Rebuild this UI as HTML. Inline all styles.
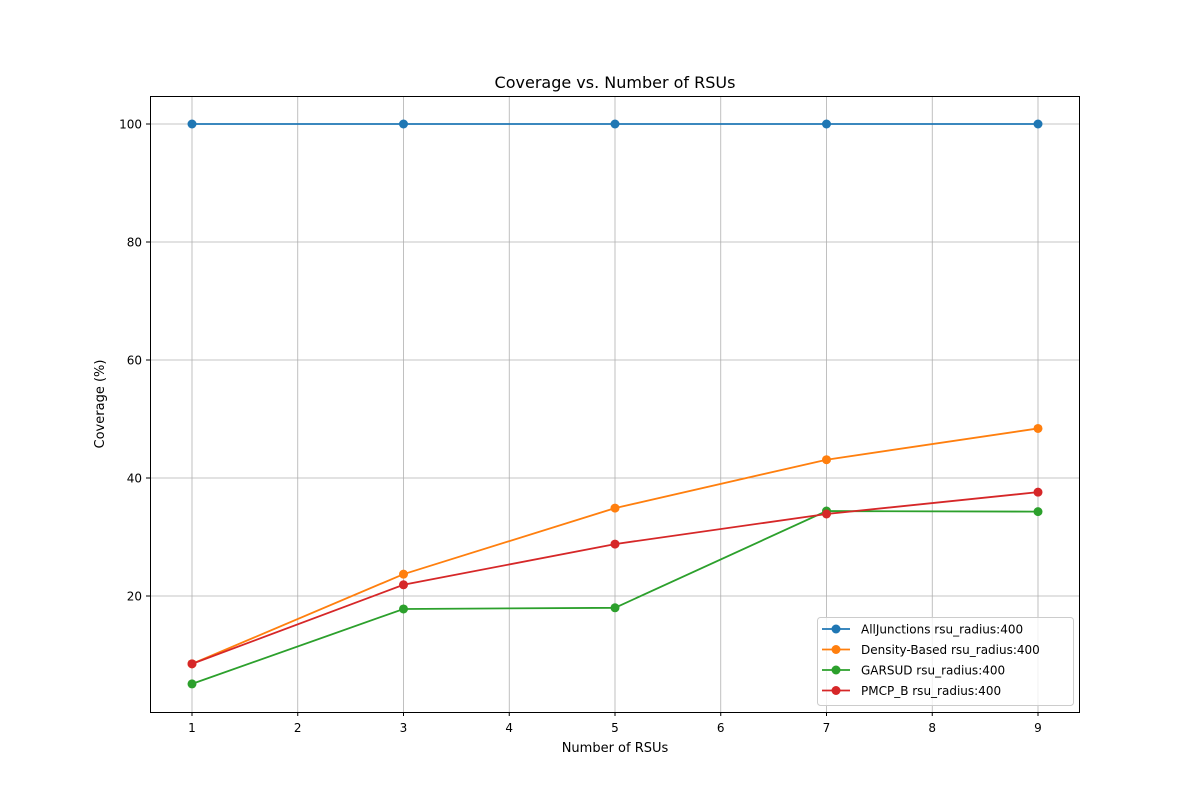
<!DOCTYPE html>
<html><head><meta charset="utf-8"><style>
html,body{margin:0;padding:0;background:#fff;}
svg text{font-family:"DejaVu Sans","Liberation Sans",sans-serif;fill:#000;}
</style></head><body>
<svg id="chart" width="1200" height="800" xmlns="http://www.w3.org/2000/svg">
<rect width="1200" height="800" fill="#fff"/>
<g id="grid"></g>
<g id="series"></g>
<rect x="150.5" y="96.5" width="929" height="616" fill="none" stroke="#000" stroke-width="1"/>
<g id="axes"></g>
<text x="615" y="88" text-anchor="middle" font-size="16">Coverage vs. Number of RSUs</text>
<text x="615" y="752" text-anchor="middle" font-size="13">Number of RSUs</text>
<text x="104" y="404" text-anchor="middle" font-size="13" transform="rotate(-90 104 404)">Coverage (%)</text>
<g id="legend"></g>
</svg>
<script>
const categories=[1,3,5,7,9];
const seriesNames=["AllJunctions rsu_radius:400","Density-Based rsu_radius:400","GARSUD rsu_radius:400","PMCP_B rsu_radius:400"];
const allJunctions=[100,100,100,100,100];
const densityBased=[8.5,23.7,34.9,43.1,48.4];
const garsud=[5.1,17.8,18.0,34.4,34.3];
const pmcpB=[8.5,21.9,28.8,33.9,37.6];
const xTicks=[1,2,3,4,5,6,7,8,9];
const yTicks=[20,40,60,80,100];

const colors=["#1f77b4","#ff7f0e","#2ca02c","#d62728"];
const allSeries=[allJunctions,densityBased,garsud,pmcpB];
const NS="http://www.w3.org/2000/svg";
const X=v=>192+(v-1)*105.75;
const Y=v=>714-v*5.9;
function mk(tag,attrs,parent){const e=document.createElementNS(NS,tag);for(const k in attrs)e.setAttribute(k,attrs[k]);parent.appendChild(e);return e;}
const grid=document.getElementById('grid'),axes=document.getElementById('axes'),ser=document.getElementById('series'),leg=document.getElementById('legend');
xTicks.forEach(t=>{
  const x=X(t);
  const g=mk('line',{x1:x,x2:x,y1:96,y2:712,stroke:'#b0b0b0','stroke-width':0.8},grid);
  
  
  mk('line',{x1:x,x2:x,y1:712,y2:716,stroke:'#000'},axes);
  const tx=mk('text',{x:x,y:732,'text-anchor':'middle','font-size':12},axes);
  tx.textContent=t;
  
  
});
yTicks.forEach(t=>{
  const y=Y(t);
  const g=mk('line',{x1:150,x2:1080,y1:y,y2:y,stroke:'#b0b0b0','stroke-width':0.8},grid);
  
  
  mk('line',{x1:146,x2:150,y1:y,y2:y,stroke:'#000'},axes);
  const tx=mk('text',{x:142,y:y+4.5,'text-anchor':'end','font-size':12},axes);
  tx.textContent=t;
  
  
});
allSeries.forEach((vals,i)=>{
  const pts=vals.map((v,j)=>X(categories[j])+','+Y(v)).join(' ');
  const pl=mk('polyline',{points:pts,fill:'none',stroke:colors[i],'stroke-width':1.8},ser);
  
  
  vals.forEach((v,j)=>{
    const c=mk('circle',{cx:X(categories[j]),cy:Y(v),r:4.5,fill:colors[i]},ser);
    
    
  });
});
const lb=mk('rect',{x:817.5,y:617.5,width:256,height:88,rx:3,fill:'#fff','fill-opacity':0.8,stroke:'#ccc'},leg);


seriesNames.forEach((n,i)=>{
  const y=629+i*20.5;
  const g=mk('g',{},leg);
  
  
  mk('line',{x1:822,x2:850,y1:y,y2:y,stroke:colors[i],'stroke-width':1.8},g);
  mk('circle',{cx:836,cy:y,r:4.5,fill:colors[i]},g);
  const t=mk('text',{x:861,y:y+4.5,'font-size':12},g);
  t.textContent=n;
});
</script>
</body></html>
